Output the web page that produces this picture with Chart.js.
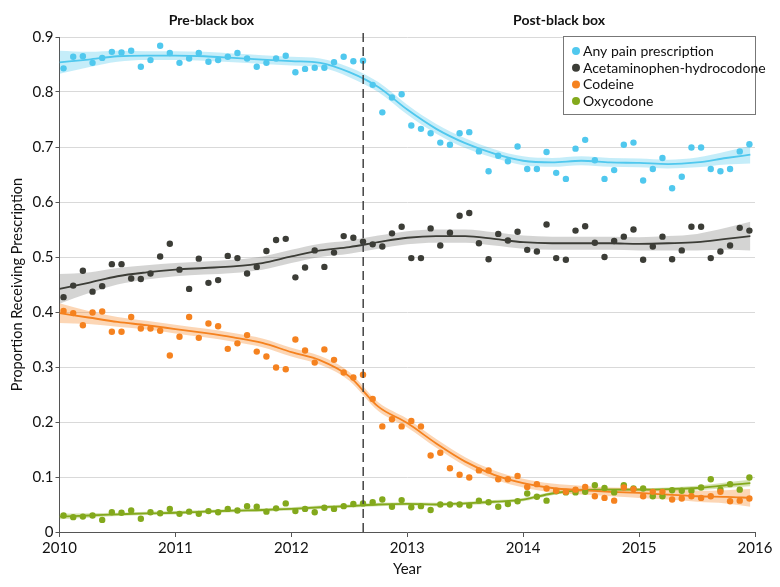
<!DOCTYPE html>
<html>
<head>
<meta charset="utf-8">
<script src="https://cdn.jsdelivr.net/npm/chart.js@4.4.0/dist/chart.umd.min.js"></script>
<style>html,body{margin:0;padding:0;background:#fff}canvas{display:block}</style>
</head>
<body>
<canvas id="c" width="780" height="587"></canvas>
<script>
// ---------- data ----------
const startYear = 2010;
const seriesNames = ['Any pain prescription', 'Acetaminophen-hydrocodone', 'Codeine', 'Oxycodone'];

// monthly proportions, Jan 2010 .. Dec 2015
const anyPain = [0.843, 0.864, 0.865, 0.853, 0.862, 0.873, 0.872, 0.875, 0.846, 0.858, 0.884, 0.871,
  0.853, 0.861, 0.871, 0.855, 0.858, 0.864, 0.871, 0.861, 0.846, 0.853, 0.861, 0.866,
  0.836, 0.842, 0.844, 0.844, 0.854, 0.864, 0.856, 0.857, 0.813, 0.763, 0.790, 0.796,
  0.739, 0.733, 0.725, 0.708, 0.704, 0.725, 0.727, 0.692, 0.656, 0.684, 0.674, 0.701,
  0.660, 0.660, 0.691, 0.653, 0.642, 0.697, 0.713, 0.676, 0.642, 0.658, 0.704, 0.708,
  0.639, 0.660, 0.680, 0.625, 0.646, 0.699, 0.699, 0.660, 0.656, 0.660, 0.692, 0.705];
const hydrocodone = [0.427, 0.448, 0.475, 0.437, 0.447, 0.487, 0.487, 0.461, 0.460, 0.470, 0.501, 0.524,
  0.477, 0.442, 0.497, 0.453, 0.458, 0.502, 0.498, 0.470, 0.482, 0.511, 0.531, 0.533,
  0.463, 0.481, 0.512, 0.482, 0.508, 0.538, 0.535, 0.528, 0.523, 0.519, 0.543, 0.555,
  0.498, 0.498, 0.552, 0.521, 0.544, 0.575, 0.580, 0.525, 0.496, 0.542, 0.530, 0.546,
  0.513, 0.510, 0.559, 0.498, 0.495, 0.548, 0.556, 0.526, 0.500, 0.529, 0.537, 0.550,
  0.495, 0.519, 0.537, 0.496, 0.512, 0.555, 0.555, 0.498, 0.510, 0.521, 0.553, 0.548];
const codeine = [0.402, 0.398, 0.376, 0.399, 0.401, 0.364, 0.364, 0.391, 0.370, 0.370, 0.366, 0.321,
  0.355, 0.391, 0.353, 0.379, 0.374, 0.333, 0.343, 0.358, 0.328, 0.319, 0.299, 0.296,
  0.350, 0.330, 0.308, 0.332, 0.313, 0.290, 0.281, 0.286, 0.242, 0.192, 0.205, 0.192,
  0.202, 0.192, 0.139, 0.144, 0.116, 0.104, 0.099, 0.112, 0.112, 0.096, 0.096, 0.102,
  0.082, 0.087, 0.079, 0.075, 0.073, 0.077, 0.082, 0.065, 0.062, 0.057, 0.081, 0.078,
  0.065, 0.073, 0.073, 0.059, 0.061, 0.065, 0.062, 0.065, 0.073, 0.056, 0.057, 0.061];
const oxycodone = [0.030, 0.027, 0.028, 0.030, 0.022, 0.036, 0.035, 0.039, 0.024, 0.036, 0.034, 0.042,
  0.033, 0.037, 0.033, 0.038, 0.036, 0.042, 0.039, 0.047, 0.046, 0.037, 0.043, 0.052,
  0.038, 0.042, 0.036, 0.044, 0.042, 0.047, 0.051, 0.052, 0.054, 0.059, 0.046, 0.058,
  0.045, 0.047, 0.040, 0.050, 0.050, 0.050, 0.048, 0.057, 0.054, 0.046, 0.051, 0.056,
  0.070, 0.064, 0.057, 0.074, 0.072, 0.072, 0.073, 0.085, 0.080, 0.072, 0.085, 0.079,
  0.079, 0.065, 0.065, 0.076, 0.075, 0.075, 0.081, 0.096, 0.077, 0.087, 0.077, 0.099];

// smoothed fit lines and half-width of their shaded bands, read at these years
const fitYears = [2010, 2010.25, 2010.5, 2010.75, 2011, 2011.25, 2011.5, 2011.75, 2012, 2012.25, 2012.5, 2012.75,
  2013, 2013.25, 2013.5, 2013.75, 2014, 2014.25, 2014.5, 2014.75, 2015, 2015.25, 2015.5, 2015.75, 2015.96];
const anyPainFit = [0.854, 0.859, 0.865, 0.866, 0.866, 0.865, 0.862, 0.859, 0.856, 0.853, 0.836, 0.809,
  0.768, 0.733, 0.707, 0.688, 0.675, 0.672, 0.675, 0.672, 0.671, 0.669, 0.672, 0.680, 0.686];
const anyPainBand = [0.021, 0.014, 0.010, 0.008, 0.008, 0.008, 0.008, 0.008, 0.008, 0.008, 0.009, 0.009,
  0.009, 0.009, 0.009, 0.008, 0.008, 0.008, 0.008, 0.008, 0.008, 0.008, 0.009, 0.012, 0.016];
const hydrocodoneFit = [0.442, 0.453, 0.465, 0.472, 0.477, 0.480, 0.483, 0.489, 0.501, 0.512, 0.518, 0.527,
  0.535, 0.538, 0.538, 0.533, 0.527, 0.525, 0.525, 0.525, 0.524, 0.525, 0.527, 0.533, 0.538];
const hydrocodoneBand = [0.027, 0.019, 0.015, 0.013, 0.012, 0.012, 0.012, 0.012, 0.012, 0.012, 0.012, 0.012,
  0.012, 0.012, 0.012, 0.012, 0.012, 0.012, 0.012, 0.012, 0.012, 0.013, 0.015, 0.020, 0.026];
const codeineFit = [0.398, 0.390, 0.382, 0.376, 0.369, 0.362, 0.354, 0.344, 0.327, 0.312, 0.283, 0.228,
  0.198, 0.161, 0.128, 0.104, 0.089, 0.080, 0.076, 0.073, 0.071, 0.068, 0.065, 0.064, 0.062];
const codeineBand = [0.018, 0.012, 0.009, 0.008, 0.008, 0.008, 0.008, 0.008, 0.008, 0.008, 0.008, 0.008,
  0.008, 0.008, 0.008, 0.008, 0.008, 0.008, 0.008, 0.008, 0.009, 0.009, 0.010, 0.012, 0.016];
const oxycodoneFit = [0.028, 0.030, 0.032, 0.034, 0.035, 0.037, 0.039, 0.040, 0.042, 0.045, 0.047, 0.050,
  0.051, 0.050, 0.052, 0.055, 0.059, 0.070, 0.076, 0.077, 0.077, 0.078, 0.080, 0.085, 0.089];
const oxycodoneBand = [0.005, 0.004, 0.003, 0.003, 0.003, 0.003, 0.003, 0.003, 0.003, 0.003, 0.003, 0.003,
  0.003, 0.003, 0.003, 0.003, 0.003, 0.003, 0.003, 0.003, 0.003, 0.003, 0.004, 0.005, 0.006];

const blackBoxYear = 2012.62;          // FDA boxed warning (Aug 2012)
const blackBoxSpan = [0, 0.91];
const periodLabels = ['Pre-black box', 'Post-black box'];
const xTickLabels = ['2010', '2011', '2012', '2013', '2014', '2015', '2016'];
const yTickLabels = ['0', '0.1', '0.2', '0.3', '0.4', '0.5', '0.6', '0.7', '0.8', '0.9'];
const xTitle = 'Year';
const yTitle = 'Proportion Receiving Prescription';

// ---------- styles ----------
const pointColors = ['#50c8ee', '#3c3d37', '#f5821f', '#83a91c'];
const bandColors = ['rgba(80,200,238,0.33)', 'rgba(60,61,55,0.22)', 'rgba(245,130,31,0.33)', 'rgba(131,169,28,0.33)'];
const FONT = 'Lato, "Open Sans", "DejaVu Sans", sans-serif';
const TEXT = '#111';
const FS = 15;
const LEGEND_FS = 14;

const seriesValues = [anyPain, hydrocodone, codeine, oxycodone];
const seriesFits = [anyPainFit, hydrocodoneFit, codeineFit, oxycodoneFit];
const seriesBands = [anyPainBand, hydrocodoneBand, codeineBand, oxycodoneBand];

const monthX = i => startYear + (i + 0.42) / 12;

const datasets = [];
seriesNames.forEach((name, s) => {
  datasets.push({
    label: name + ' upper', data: fitYears.map((x, k) => ({x, y: seriesFits[s][k] + seriesBands[s][k]})),
    borderWidth: 0, pointRadius: 0, fill: false, cubicInterpolationMode: 'monotone', order: 10
  });
  datasets.push({
    label: name + ' lower', data: fitYears.map((x, k) => ({x, y: seriesFits[s][k] - seriesBands[s][k]})),
    borderWidth: 0, pointRadius: 0, fill: '-1', backgroundColor: bandColors[s],
    cubicInterpolationMode: 'monotone', order: 10
  });
  datasets.push({
    label: name + ' fit', data: fitYears.map((x, k) => ({x, y: seriesFits[s][k]})),
    borderColor: pointColors[s], borderWidth: 1.8, pointRadius: 0, fill: false,
    cubicInterpolationMode: 'monotone', order: 3
  });
  datasets.push({
    label: name, data: seriesValues[s].map((v, i) => ({x: monthX(i), y: v})),
    showLine: false, pointRadius: 3.2, pointBorderWidth: 0,
    backgroundColor: pointColors[s], borderColor: pointColors[s], order: 2
  });
});
datasets.push({
  label: 'Black box warning', data: blackBoxSpan.map(y => ({x: blackBoxYear, y})),
  borderColor: '#444', borderWidth: 1.5, borderDash: [9, 5], pointRadius: 0, fill: false, order: 0, clip: false
});

const overlay = {
  id: 'overlay',
  afterDatasetsDraw(chart) {
    const {ctx, chartArea, scales: {x}} = chart;
    ctx.save();
    ctx.font = 'bold 14px ' + FONT;
    ctx.fillStyle = TEXT;
    ctx.textAlign = 'center';
    ctx.textBaseline = 'middle';
    const xb = x.getPixelForValue(blackBoxYear);
    ctx.fillText(periodLabels[0], (chartArea.left + xb) / 2, chartArea.top - 17);
    ctx.fillText(periodLabels[1], (xb + chartArea.right) / 2, chartArea.top - 17);

    const lw = 192, lh = 78;
    const lx = chartArea.right - lw, ly = chartArea.top - 1;
    ctx.fillStyle = '#fff';
    ctx.fillRect(lx, ly, lw, lh);
    ctx.strokeStyle = '#777';
    ctx.lineWidth = 1;
    ctx.strokeRect(Math.round(lx) + 0.5, Math.round(ly) + 0.5, lw, lh);
    ctx.font = LEGEND_FS + 'px ' + FONT;
    ctx.textAlign = 'left';
    seriesNames.forEach((n, i) => {
      const cy = ly + 15 + i * 16.7;
      ctx.fillStyle = pointColors[i];
      ctx.beginPath();
      ctx.arc(lx + 13, cy, 4, 0, Math.PI * 2);
      ctx.fill();
      ctx.fillStyle = TEXT;
      ctx.fillText(n, lx + 20, cy + 0.5);
    });
    ctx.restore();
  }
};

Chart.defaults.font.family = FONT;
Chart.defaults.font.size = FS;
Chart.defaults.color = TEXT;

new Chart(document.getElementById('c'), {
  type: 'line',
  data: {datasets},
  plugins: [overlay],
  options: {
    responsive: false,
    animation: false,
    devicePixelRatio: 1,
    events: [],
    layout: {padding: {left: 0, right: 25, top: 37, bottom: 0}},
    plugins: {
      legend: {display: false},
      tooltip: {enabled: false},
      filler: {drawTime: 'beforeDatasetsDraw', propagate: false}
    },
    scales: {
      x: {
        type: 'linear', min: 2010, max: 2016,
        afterBuildTicks: s => { s.ticks = xTickLabels.map(v => ({value: Number(v)})); },
        ticks: {callback: (v, i) => xTickLabels[i], padding: 2, maxRotation: 0, autoSkip: false, color: TEXT, font: {size: FS}},
        grid: {drawOnChartArea: false, drawTicks: true, tickLength: 5, tickColor: '#555', tickWidth: 1},
        border: {color: '#555', width: 1},
        title: {display: true, text: xTitle, color: TEXT, font: {size: FS}, padding: {top: 4, bottom: 9}},
        afterFit: s => { s.height = 55; }
      },
      y: {
        type: 'linear', min: 0, max: 0.9,
        afterBuildTicks: s => { s.ticks = yTickLabels.map(v => ({value: Number(v)})); },
        ticks: {callback: (v, i) => yTickLabels[i], padding: 2, color: TEXT, font: {size: FS}},
        grid: {
          color: c => (c.tick && c.tick.value === 0) ? 'rgba(0,0,0,0)' : '#d9d9d9',
          lineWidth: 1, drawTicks: true, tickLength: 4, tickColor: '#555', tickWidth: 1
        },
        border: {color: '#555', width: 1},
        title: {display: true, text: yTitle, color: TEXT, font: {size: 14.5}, padding: {top: 9, bottom: 0}},
        afterFit: s => { s.width = 59.5; }
      }
    }
  }
});
</script>
</body>
</html>
